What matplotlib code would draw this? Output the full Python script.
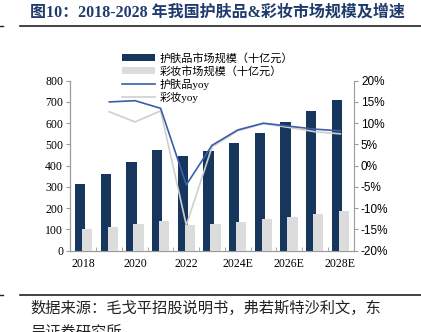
import matplotlib
matplotlib.use('Agg')
import numpy as np
from matplotlib import pyplot as plt
from matplotlib.ticker import FuncFormatter

plt.rcParams['font.family'] = ['Liberation Serif', 'Noto Sans CJK SC']

# donnees
years = ['2018', '2019', '2020', '2021', '2022', '2023', '2024E', '2025E', '2026E', '2027E', '2028E']
skincare = [316, 362, 416, 472, 447, 470, 508, 556, 606, 656, 708]
makeup = [100, 113, 124, 138, 119, 126, 136, 148, 160, 173, 185]
skincare_yoy = [np.nan, 15.0, 15.3, 13.5, -4.5, 4.8, 8.4, 10.0, 9.3, 8.6, 8.2]
makeup_yoy = [np.nan, 12.7, 10.3, 12.9, -14.0, 4.4, 8.2, 9.9, 9.0, 8.0, 7.5]

dark = '#17365d'
light = '#dcdcdc'
blue = '#3a5fa8'
grey = '#cfcfcf'
axcol = '#9a9a9a'

fig = plt.figure(figsize=(4.21, 3.32), dpi=100)
ax = fig.add_axes([70/421, 1-250.7/332, 284/421, 170/332])
ax2 = ax.twinx()
ax.set_zorder(1)
ax.patch.set_visible(False)
ax2.set_zorder(0)

x = np.arange(len(years))
b1 = ax.bar(x - 0.14, skincare, width=0.4, color=dark, zorder=2)
b2 = ax.bar(x + 0.14, makeup, width=0.4, color=light, zorder=3)
# yoy sur l'axe de droite, converti vers l'echelle de gauche
l1, = ax.plot(x, np.array(skincare_yoy) * 20 + 400, color=blue, lw=1.2, zorder=5)
l2, = ax.plot(x, np.array(makeup_yoy) * 20 + 400, color=grey, lw=1.2, zorder=4)

ax.set_xlim(-0.53, 10.53)
ax.set_ylim(0, 800)
ax2.set_ylim(-20, 20)
ax.set_yticks(range(0, 801, 100))
ax2.set_yticks(range(-20, 21, 5))
ax2.yaxis.set_major_formatter(FuncFormatter(lambda v, p: '%d%%' % v))
ax.set_xticks(x[::2])
ax.set_xticklabels(years[::2])
ax.set_xticks(x[:-1] + 0.5, minor=True)
ax.tick_params(axis='x', which='major', length=0, pad=5, labelsize=8.5)
ax.tick_params(axis='x', which='minor', direction='in', length=3, color=axcol)
ax.tick_params(axis='y', length=3, color=axcol, labelsize=8.5, pad=2)
ax2.tick_params(axis='y', length=3, color=axcol, labelsize=8.5, pad=2)
for lab in ax2.get_yticklabels():
    lab.set_family(['Liberation Sans'])

for a in (ax, ax2):
    a.spines['top'].set_visible(False)
    for s in ('left', 'right', 'bottom'):
        a.spines[s].set_color(axcol)
ax.spines['right'].set_visible(False)

fig.legend([b1, b2, l1, l2],
           ['护肤品市场规模（十亿元）', '彩妆市场规模（十亿元）', '护肤品yoy', '彩妆yoy'],
           loc='upper left', bbox_to_anchor=(116/421, 1-47/332), frameon=False,
           handlelength=3.0, handletextpad=0.4, labelspacing=0.2, borderpad=0,
           prop={'family': ['Liberation Serif', 'Noto Sans CJK SC'], 'size': 8})

# titre et source
fig.text(30/421, 1-13/332, '图10：2018-2028 年我国护肤品&彩妆市场规模及增速',
         fontsize=11.5, fontweight='bold', color='#1f3b6e', va='center', ha='left')
fig.add_artist(plt.Line2D([20/421, 1], [1-26/332, 1-26/332], color='#222222', lw=1.2))
fig.add_artist(plt.Line2D([0, 3/421], [1-26/332, 1-26/332], color='#222222', lw=1))
fig.add_artist(plt.Line2D([20/421, 1], [1-295/332, 1-295/332], color='#222222', lw=1.2))
fig.add_artist(plt.Line2D([0, 3/421], [1-295/332, 1-295/332], color='#222222', lw=1))
fig.text(30/421, 1-308/332, '数据来源：毛戈平招股说明书，弗若斯特沙利文，东',
         fontsize=11, color='#222222', va='center', ha='left')
fig.text(30/421, 1-333/332, '吴证券研究所', fontsize=11, color='#222222', va='center', ha='left')

fig.savefig('out.png', dpi=100)
